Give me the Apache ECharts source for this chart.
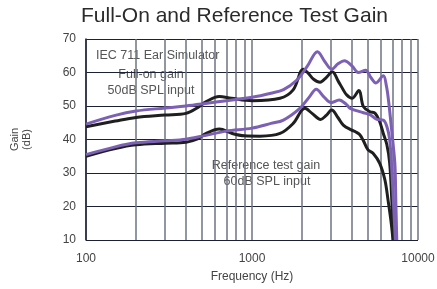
<!DOCTYPE html>
<html lang="en">
<head>
    <meta charset="UTF-8"/>
    <title>Full-On and Reference Test Gain</title>
    <script src="https://cdn.jsdelivr.net/npm/echarts@6/dist/echarts.min.js"></script>
    <style>
        html, body { margin: 0; padding: 0; background: #fff; }
        #main { width: 437px; height: 289px; }
    </style>
</head>
<body>
<div id="main"></div>
<script type="text/javascript">

    // frequency (Hz), gain (dB)
    var fullOnBlack = [
        [100, 43.8], [150, 45.5], [200, 46.6], [300, 47.3], [400, 47.8], [470, 49.5],
        [530, 51.3], [635, 52.8], [750, 52.3], [1000, 51.6], [1475, 52.3], [1770, 54.8],
        [2037, 61], [2180, 59.8], [2350, 58], [2570, 57.1], [2800, 58.5], [3046, 60.2],
        [3300, 57.5], [3550, 54.8], [3718, 53.3], [4000, 52.3], [4400, 54.6], [4690, 49.8],
        [5140, 48.3], [5520, 47.8], [5880, 45.3], [6180, 41.8], [6490, 38.5], [6750, 33],
        [6950, 22], [7100, 10]
    ];
    var fullOnPurple = [
        [100, 44.6], [150, 47.2], [200, 48.5], [300, 49.4], [400, 50], [500, 50.6],
        [700, 51.6], [1000, 52.6], [1300, 53.8], [1550, 54.9], [1850, 57.6], [2150, 61.8],
        [2480, 66.2], [2750, 63.2], [3020, 61], [3300, 62.6], [3600, 63.5], [4000, 62],
        [4370, 60], [4840, 60.7], [5200, 58.5], [5580, 56.9], [6180, 59], [6450, 56],
        [6650, 51.5], [6900, 44], [7100, 38], [7270, 32], [7350, 22], [7450, 10]
    ];
    var refBlack = [
        [100, 35], [150, 37.3], [200, 38.4], [300, 38.9], [400, 39.2], [470, 40.2],
        [530, 41.8], [635, 43.1], [760, 41.8], [900, 41.1], [1117, 41], [1475, 41.8],
        [1770, 44.8], [2085, 49.3], [2300, 47.8], [2590, 46], [2800, 47.2], [3020, 48.8],
        [3300, 46.5], [3548, 44.3], [3987, 42.8], [4200, 42.3], [4450, 41.5], [4690, 39.6],
        [5000, 36.9], [5360, 35.9], [5880, 32.9], [6320, 27.9], [6600, 21.9], [6900, 15],
        [7070, 10]
    ];
    var refPurple = [
        [100, 35.5], [150, 37.8], [200, 39], [300, 39.6], [400, 40.1], [500, 41],
        [700, 42.5], [1000, 43.4], [1300, 44.8], [1545, 45.8], [1942, 49.3], [2200, 52.5],
        [2440, 55], [2700, 52.8], [3000, 51], [3350, 51.8], [3700, 50.5], [3900, 49.3],
        [4690, 48], [5140, 47.4], [5650, 46], [6180, 45.8], [6500, 43.8], [6750, 40],
        [6950, 31], [7150, 19], [7300, 10]
    ];
    var minorFreqs = [200, 300, 400, 500, 600, 700, 800, 900,
                      2000, 3000, 4000, 5000, 6000, 7000, 8000, 9000];

    var BLACK = '#1f1f1f';
    var PURPLE = '#7b60b4';
    var GRID_V = '#6e7382';
    var GRID_H = '#1c2136';
    var FONT = 'Liberation Sans';

    function curve(name, data, color) {
        return {
            name: name,
            type: 'line',
            data: data,
            smooth: 0.35,
            showSymbol: false,
            lineStyle: { color: color, width: 3 },
            silent: true,
            z: 5
        };
    }

    var myChart = echarts.init(document.getElementById('main'));

    var option = {
        animation: false,
        textStyle: { fontFamily: FONT },
        title: {
            text: 'Full-On and Reference Test Gain',
            left: 76,
            top: 1,
            textStyle: { fontSize: 21, fontWeight: 'normal', color: '#2b2b2b', fontFamily: FONT }
        },
        grid: { left: 86, right: 19, top: 39, bottom: 49, outerBoundsMode: 'none', containLabel: false },
        xAxis: {
            type: 'log',
            logBase: 10,
            min: 100,
            max: 10000,
            name: 'Frequency (Hz)',
            nameLocation: 'middle',
            nameGap: 31,
            nameTextStyle: { fontSize: 12, color: '#444' },
            axisLine: { show: false },
            axisTick: { show: false },
            axisLabel: {
                fontSize: 12, color: '#444', margin: 13,
                formatter: function (v) { return String(Math.round(v)); }
            },
            splitLine: { show: true, lineStyle: { color: GRID_V, width: 1.5 } }
        },
        yAxis: {
            type: 'value',
            min: 10,
            max: 70,
            interval: 10,
            name: 'Gain\n(dB)',
            nameLocation: 'middle',
            nameRotate: 90,
            nameGap: 53,
            nameTextStyle: { fontSize: 11, color: '#444', lineHeight: 12 },
            axisLine: { show: true, lineStyle: { color: GRID_H, width: 1.5 } },
            axisTick: { show: false },
            axisLabel: { fontSize: 12, color: '#444', margin: 10 },
            splitLine: { show: true, lineStyle: { color: GRID_H, width: 1.2 } }
        },
        graphic: [
            { type: 'text', left: 96, top: 49, style: { text: 'IEC 711 Ear Simulator', fill: '#555', font: '12.5px ' + FONT } },
            { type: 'text', x: 151, y: 75, style: { text: 'Full-on gain', align: 'center', verticalAlign: 'middle', fill: '#555', font: '12.5px ' + FONT } },
            { type: 'text', x: 151, y: 91, style: { text: '50dB SPL input', align: 'center', verticalAlign: 'middle', fill: '#555', font: '12.5px ' + FONT } },
            { type: 'text', x: 266, y: 166, style: { text: 'Reference test gain', align: 'center', verticalAlign: 'middle', fill: '#555', font: '12.5px ' + FONT } },
            { type: 'text', x: 267, y: 182, style: { text: '60dB SPL input', align: 'center', verticalAlign: 'middle', fill: '#555', font: '12.5px ' + FONT } }
        ],
        series: [
            {
                name: 'minor grid',
                type: 'line',
                data: [],
                silent: true,
                z: 1,
                markLine: {
                    silent: true,
                    symbol: 'none',
                    label: { show: false },
                    lineStyle: { color: GRID_V, width: 1.5, type: 'solid' },
                    data: minorFreqs.map(function (f) { return { xAxis: f }; })
                }
            },
            curve('Full-on gain (black)', fullOnBlack, BLACK),
            curve('Reference test gain (black)', refBlack, BLACK),
            curve('Full-on gain (purple)', fullOnPurple, PURPLE),
            curve('Reference test gain (purple)', refPurple, PURPLE)
        ]
    };

    myChart.setOption(option);
</script>
</body>
</html>
